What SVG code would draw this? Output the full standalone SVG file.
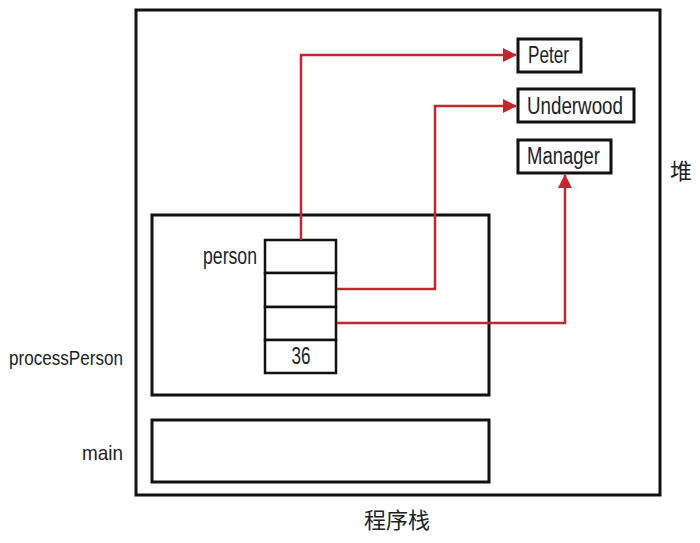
<svg xmlns="http://www.w3.org/2000/svg" width="700" height="543" viewBox="0 0 700 543">
<style>
.box{fill:#fff;stroke:#111;stroke-width:3}
.cell{fill:#fff;stroke:#111;stroke-width:2.5}
.t{font-family:"Liberation Sans",Arial,sans-serif;font-size:23px;fill:#222}
.cjk{font-family:"Noto Sans CJK SC",sans-serif;font-size:22px;fill:#222}
.link{fill:none;stroke:#c1272d;stroke-width:2.5}
</style>
<defs>
<marker id="ah" markerWidth="14" markerHeight="14" refX="13" refY="7" orient="auto" markerUnits="userSpaceOnUse">
<path d="M0,0 L14,7 L0,14 Z" fill="#c1272d"/>
</marker>
</defs>
<rect width="700" height="543" fill="#fff"/>
<g id="heap"><rect class="box" x="136" y="10" width="524" height="485"/><text class="cjk" x="670" y="179">堆</text></g>
<g id="stack-label"><text class="cjk" x="397" y="528" text-anchor="middle">程序栈</text></g>
<g id="processPerson"><rect class="box" x="152" y="215" width="337" height="180"/><text class="t" x="123" y="365" text-anchor="end" textLength="114" lengthAdjust="spacingAndGlyphs" style="font-size:21px">processPerson</text></g>
<g id="main"><rect class="box" x="152" y="420" width="337" height="62"/><text class="t" x="123" y="460" text-anchor="end" textLength="41" lengthAdjust="spacingAndGlyphs" style="font-size:21px">main</text></g>
<g id="person">
<text class="t" x="257" y="264" text-anchor="end" textLength="54" lengthAdjust="spacingAndGlyphs">person</text>
<rect class="cell" x="265" y="240" width="71" height="33"/>
<rect class="cell" x="265" y="273" width="71" height="34"/>
<rect class="cell" x="265" y="307" width="71" height="33"/>
<rect class="cell" x="265" y="340" width="71" height="33"/>
<text class="t" x="301" y="364" text-anchor="middle" textLength="19" lengthAdjust="spacingAndGlyphs">36</text>
</g>
<g id="peter"><rect class="box" x="518" y="39" width="63" height="33"/><text class="t" x="528" y="63" textLength="41" lengthAdjust="spacingAndGlyphs">Peter</text></g>
<g id="underwood"><rect class="box" x="518" y="89" width="116" height="33"/><text class="t" x="527" y="114" textLength="96" lengthAdjust="spacingAndGlyphs">Underwood</text></g>
<g id="manager"><rect class="box" x="518" y="140" width="93" height="33"/><text class="t" x="527" y="164" textLength="73" lengthAdjust="spacingAndGlyphs">Manager</text></g>
<g id="connectors">
<path class="link" d="M301,240 V55 H516" marker-end="url(#ah)"/>
<path class="link" d="M337,289 H435 V106 H516" marker-end="url(#ah)"/>
<path class="link" d="M337,323 H565 V175" marker-end="url(#ah)"/>
</g>
</svg>
